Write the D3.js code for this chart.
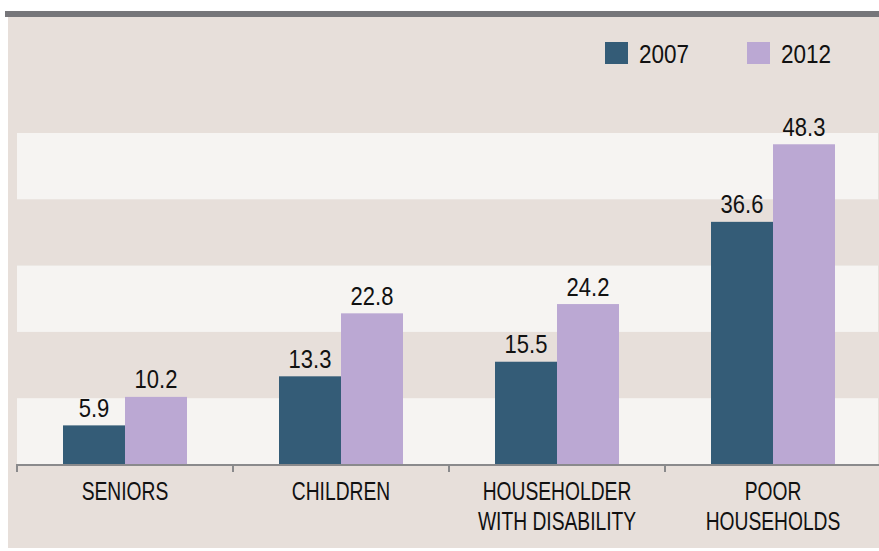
<!DOCTYPE html>
<html><head><meta charset="utf-8">
<script src="https://cdn.jsdelivr.net/npm/d3@7/dist/d3.min.js"></script>
<style>
html,body{margin:0;padding:0;background:#fff;}
text{font-family:"Liberation Sans",Arial,sans-serif;fill:#111;}
</style></head>
<body><svg id="c" width="879" height="551"></svg>
<script>
const categories = [["SENIORS"],["CHILDREN"],["HOUSEHOLDER","WITH DISABILITY"],["POOR","HOUSEHOLDS"]];
const seriesNames = ["2007","2012"];
const values2007 = [5.9, 13.3, 15.5, 36.6];
const values2012 = [10.2, 22.8, 24.2, 48.3];
const bandStops = [0,10,20,30,40,50];

const colors = {"2007":"#345c77","2012":"#bba8d3"};
const svg = d3.select("#c");

// frame
svg.append("rect").attr("x",5).attr("y",11).attr("width",874).attr("height",6).attr("fill","#76767a");
svg.append("rect").attr("x",8).attr("y",17).attr("width",871).attr("height",531).attr("fill","#e7dfda");

const x = d3.scaleBand().domain(d3.range(categories.length)).range([17,881]).paddingInner(0.426).paddingOuter(0.213);
const xs = d3.scaleBand().domain(seriesNames).range([0,x.bandwidth()]);
const y = d3.scaleLinear().domain([0,50]).range([464.5,133]);

// alternating bands
const bands = d3.pairs(bandStops).filter((d,i)=>i%2===0);
svg.append("g").selectAll("rect").data(bands).join("rect")
  .attr("x",17).attr("width",861)
  .attr("y",d=>y(d[1])).attr("height",d=>y(d[0])-y(d[1]))
  .attr("fill","#f6f4f2");

const data = categories.map((c,i)=>({i, vals:[{s:"2007",v:values2007[i]},{s:"2012",v:values2012[i]}]}));
const g = svg.append("g").selectAll("g").data(data).join("g").attr("transform",d=>`translate(${x(d.i)},0)`);
g.selectAll("rect").data(d=>d.vals).join("rect")
  .attr("x",d=>xs(d.s)).attr("width",xs.bandwidth())
  .attr("y",d=>y(d.v)).attr("height",d=>y(0)-y(d.v))
  .attr("fill",d=>colors[d.s]);
g.selectAll("text").data(d=>d.vals).join("text")
  .attr("transform",d=>`translate(${xs(d.s)+xs.bandwidth()/2},${y(d.v)-8.5}) scale(0.88,1)`)
  .attr("text-anchor","middle").attr("font-size",25).text(d=>d.v.toFixed(1));

// axis
const ax = svg.append("g");
ax.append("line").attr("x1",17).attr("x2",879).attr("y1",465).attr("y2",465).attr("stroke","#8a8a8c").attr("stroke-width",2);
const tickPos = d3.range(categories.length).map(i=>x(i)-x.step()*x.paddingInner()/2);
ax.selectAll(".tk").data(tickPos).join("line").attr("class","tk")
  .attr("x1",d=>d).attr("x2",d=>d).attr("y1",464).attr("y2",472).attr("stroke","#8a8a8c").attr("stroke-width",2);

const lab = svg.append("g").selectAll("text").data(categories).join("text")
  .attr("text-anchor","middle").attr("font-size",25)
  .attr("transform",(d,i)=>`translate(${x(i)+x.bandwidth()/2},499.5) scale(0.77,1)`);
lab.selectAll("tspan").data(d=>d).join("tspan").attr("x",0).attr("dy",(d,i)=>i===0?0:31).text(d=>d);

// legend
const legX = [605, 747];
const lg = svg.append("g").selectAll("g").data(seriesNames).join("g").attr("transform",(d,i)=>`translate(${legX[i]},42)`);
lg.append("rect").attr("width",23).attr("height",22).attr("fill",d=>colors[d]);
lg.append("text").attr("transform","translate(34,21) scale(0.85,1)").attr("font-size",26.5).text(d=>d);
</script></body></html>
